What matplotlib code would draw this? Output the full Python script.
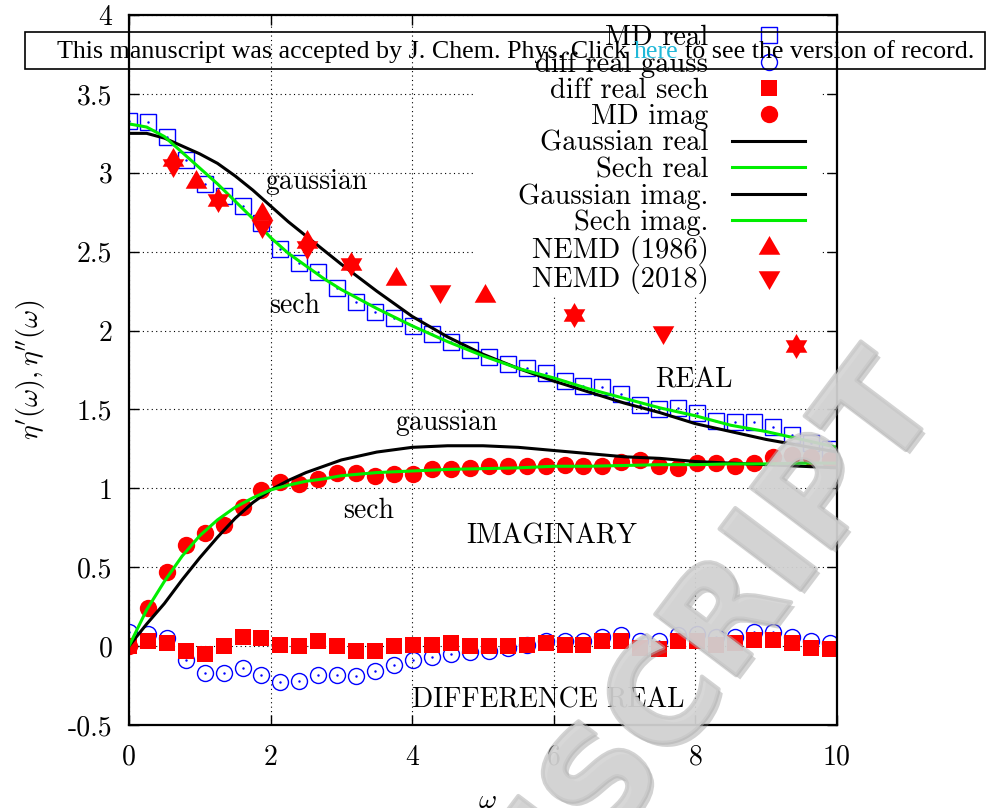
import numpy as np
import matplotlib
matplotlib.use("Agg")
import matplotlib.pyplot as plt
import matplotlib.ticker as ticker
import matplotlib.patheffects as pe
from matplotlib.path import Path

plt.rcParams['font.family'] = 'cmr10'
plt.rcParams['mathtext.fontset'] = 'cm'
plt.rcParams['axes.unicode_minus'] = False
plt.rcParams['axes.formatter.use_mathtext'] = True

# MD frequencies and spectra
omega_md = [0.000, 0.267, 0.535, 0.802, 1.070, 1.337, 1.605, 1.872, 2.140, 2.407,
            2.675, 2.942, 3.210, 3.477, 3.745, 4.012, 4.280, 4.547, 4.815, 5.082,
            5.350, 5.617, 5.885, 6.152, 6.420, 6.687, 6.955, 7.222, 7.490, 7.757,
            8.025, 8.292, 8.560, 8.827, 9.095, 9.362, 9.630, 9.897]
md_real = [3.33, 3.32, 3.23, 3.08, 2.93, 2.85, 2.79, 2.68, 2.52, 2.43,
           2.37, 2.27, 2.18, 2.12, 2.08, 2.03, 1.98, 1.93, 1.88, 1.83,
           1.79, 1.76, 1.73, 1.68, 1.65, 1.64, 1.60, 1.53, 1.50, 1.51,
           1.48, 1.43, 1.42, 1.42, 1.39, 1.34, 1.29, 1.25]
md_imag = [0.00, 0.24, 0.47, 0.64, 0.72, 0.77, 0.88, 0.99, 1.04, 1.03,
           1.06, 1.10, 1.10, 1.08, 1.09, 1.09, 1.12, 1.12, 1.13, 1.14,
           1.14, 1.14, 1.14, 1.15, 1.14, 1.14, 1.17, 1.18, 1.14, 1.13,
           1.16, 1.16, 1.14, 1.16, 1.20, 1.21, 1.20, 1.18]
diff_gauss = [0.09, 0.08, 0.05, -0.09, -0.17, -0.17, -0.14, -0.18, -0.23, -0.22,
              -0.18, -0.18, -0.19, -0.16, -0.12, -0.09, -0.07, -0.05, -0.04, -0.03,
              -0.01, 0.01, 0.03, 0.03, 0.03, 0.06, 0.07, 0.03, 0.03, 0.07,
              0.08, 0.06, 0.06, 0.09, 0.09, 0.06, 0.03, 0.02]
diff_sech = [0.00, 0.03, 0.02, -0.03, -0.05, 0.00, 0.06, 0.05, 0.01, 0.00,
             0.03, 0.00, -0.03, -0.03, 0.00, 0.01, 0.01, 0.02, 0.00, 0.00,
             0.00, 0.01, 0.02, 0.01, 0.01, 0.03, 0.03, -0.01, -0.02, 0.03,
             0.03, 0.01, 0.02, 0.04, 0.04, 0.02, -0.01, -0.02]

# model curves
omega_fit = [0.0, 0.25, 0.5, 0.75, 1.0, 1.25, 1.5, 1.75, 2.0, 2.25, 2.5, 2.75, 3.0,
             3.5, 4.0, 4.5, 5.0, 5.5, 6.0, 6.5, 7.0, 7.5, 8.0, 8.5, 9.0, 9.5, 10.0]
gauss_real = [3.25, 3.25, 3.22, 3.17, 3.12, 3.06, 2.98, 2.89, 2.79, 2.69, 2.60, 2.51, 2.42,
              2.25, 2.09, 1.96, 1.85, 1.76, 1.68, 1.61, 1.54, 1.48, 1.41, 1.36, 1.31, 1.27, 1.23]
sech_real = [3.31, 3.29, 3.23, 3.13, 3.03, 2.93, 2.82, 2.71, 2.59, 2.49, 2.41, 2.33, 2.26,
             2.14, 2.03, 1.93, 1.84, 1.76, 1.70, 1.63, 1.57, 1.51, 1.46, 1.40, 1.36, 1.31, 1.26]
gauss_imag = [0.00, 0.14, 0.27, 0.42, 0.56, 0.69, 0.81, 0.91, 0.99, 1.05, 1.10, 1.14, 1.18,
              1.23, 1.26, 1.27, 1.27, 1.26, 1.24, 1.22, 1.20, 1.19, 1.17, 1.16, 1.15, 1.14, 1.13]
sech_imag = [0.00, 0.23, 0.41, 0.57, 0.70, 0.80, 0.88, 0.94, 0.99, 1.02, 1.045, 1.06, 1.08,
             1.10, 1.11, 1.12, 1.125, 1.13, 1.14, 1.14, 1.145, 1.15, 1.15, 1.155, 1.155, 1.16, 1.16]

# NEMD results
omega_1986 = [0.628, 0.942, 1.257, 1.885, 2.513, 3.142, 3.770, 5.027, 6.283, 9.425]
nemd_1986 = [3.08, 2.94, 2.83, 2.74, 2.56, 2.42, 2.33, 2.22, 2.10, 1.90]
omega_2018 = [0.628, 1.257, 1.885, 2.513, 3.142, 4.398, 6.283, 7.540, 9.425]
nemd_2018 = [3.05, 2.83, 2.66, 2.53, 2.42, 2.25, 2.10, 1.99, 1.90]

tri_up = Path([(0, 1), (-0.866, -0.5), (0.866, -0.5), (0, 1)], closed=True)
tri_dn = Path([(0, -1), (-0.866, 0.5), (0.866, 0.5), (0, -1)], closed=True)

fig = plt.figure(figsize=(9.92, 8.08), dpi=100)
ax = fig.add_axes([0.1300, 0.1027, 0.7137, 0.8787])

ax.plot(omega_md, md_real, 's', ms=12, mfc='none', mec='#0000ff', mew=1.0, label='MD real')
ax.plot(omega_md, diff_gauss, 'o', ms=11.5, mfc='none', mec='#0000ff', mew=1.0, label='diff real gauss')
ax.plot(omega_md, md_real, '.', ms=1.5, color='#0000ff')
ax.plot(omega_md, diff_gauss, '.', ms=1.5, color='#0000ff')
ax.plot(omega_md, diff_sech, 's', ms=12, color='#ff0000', mew=0, label='diff real sech')
ax.plot(omega_md, md_imag, 'o', ms=12.5, color='#ff0000', mew=0, label='MD imag')
ax.plot(omega_fit, gauss_real, '-', color='k', lw=2.2, label='Gaussian real')
ax.plot(omega_fit, sech_real, '-', color='#00ee00', lw=2.2, label='Sech real')
ax.plot(omega_fit, gauss_imag, '-', color='k', lw=2.2, label='Gaussian imag.')
ax.plot(omega_fit, sech_imag, '-', color='#00ee00', lw=2.2, label='Sech imag.')
ax.plot(omega_1986, nemd_1986, ls='none', marker=tri_up, ms=18, color='#ff0000', mew=0, label='NEMD (1986)')
ax.plot(omega_2018, nemd_2018, ls='none', marker=tri_dn, ms=18, color='#ff0000', mew=0, label='NEMD (2018)')

ax.set_xlim(0, 10)
ax.set_ylim(-0.5, 4)
ax.set_xticks([0, 2, 4, 6, 8, 10])
ax.set_yticks(np.arange(-0.5, 4.01, 0.5))
ax.xaxis.set_major_formatter(ticker.FormatStrFormatter('%g'))
ax.yaxis.set_major_formatter(ticker.FormatStrFormatter('%g'))
ax.tick_params(direction='in', top=True, right=True, length=7, width=1.0, labelsize=20)
ax.tick_params(axis='x', pad=14)
ax.tick_params(axis='y', pad=12)
ax.set_axisbelow(True)
ax.grid(True, color='k', linestyle=(0, (1, 3)), linewidth=0.8)
for s in ax.spines.values():
    s.set_linewidth(1.6)

ax.set_xlabel(r'$\omega$', fontsize=20)
ax.set_ylabel(r"$\eta'(\omega),\eta''(\omega)$", fontsize=20)
ax.xaxis.set_label_coords(0.506, -0.088)
ax.yaxis.set_label_coords(-0.116, 0.5)

# white key area hides the grid behind the legend
ax.add_patch(plt.Rectangle((0.4887, 0.6056), 0.4901, 0.3944, transform=ax.transAxes,
                           facecolor='white', edgecolor='none', zorder=1))

leg = ax.legend(loc='upper right', bbox_to_anchor=(0.955, 0.986), markerfirst=False,
                frameon=False, fontsize=20.5, handlelength=2.55, handletextpad=0.85,
                labelspacing=0.0, borderpad=0, borderaxespad=0, numpoints=1)

ax.text(1.93, 2.90, 'gaussian', fontsize=20)
ax.text(1.98, 2.11, 'sech', fontsize=20)
ax.text(3.76, 1.37, 'gaussian', fontsize=20)
ax.text(3.02, 0.81, 'sech', fontsize=20)
ax.text(7.43, 1.64, 'REAL', fontsize=20)
ax.text(4.76, 0.65, 'IMAGINARY', fontsize=20)
ax.text(4.0, -0.39, 'DIFFERENCE REAL', fontsize=20)

# watermark
wm = fig.text(942/992, 1-402/808, 'ACCEPTED MANUSCRIPT', rotation=53, rotation_mode='anchor',
              ha='right', va='baseline', fontsize=100, fontweight='bold', family='DejaVu Sans',
              color='#d4d4d4', alpha=0.55, zorder=10)
wm.set_path_effects([pe.withSimplePatchShadow(offset=(3, -3), shadow_rgbFace='#808080', alpha=0.35),
                     pe.Stroke(linewidth=3, foreground='#b0b0b0'), pe.Normal()])

# banner at the top of the page
fig.add_artist(plt.Rectangle((25/992, 1-69/808), 960/992, 37/808, transform=fig.transFigure,
                             fill=False, edgecolor='k', linewidth=1.2, zorder=11))
fs = 18.7
ybn = 1 - 52/808
r = fig.canvas.get_renderer()
t1 = fig.text(57/992, ybn, 'This manuscript was accepted by J. Chem. Phys. Click',
              family='Liberation Serif', fontsize=fs, va='center', zorder=11)
sp = fs*100/72*0.25
b1 = t1.get_window_extent(r)
t2 = fig.text((b1.x1 + sp)/992, ybn, 'here', color='#22b8d8',
              family='Liberation Serif', fontsize=fs, va='center', zorder=11)
b2 = t2.get_window_extent(r)
fig.text((b2.x1 + sp)/992, ybn, 'to see the version of record.',
         family='Liberation Serif', fontsize=fs, va='center', zorder=11)

fig.savefig('out.png', dpi=100)
